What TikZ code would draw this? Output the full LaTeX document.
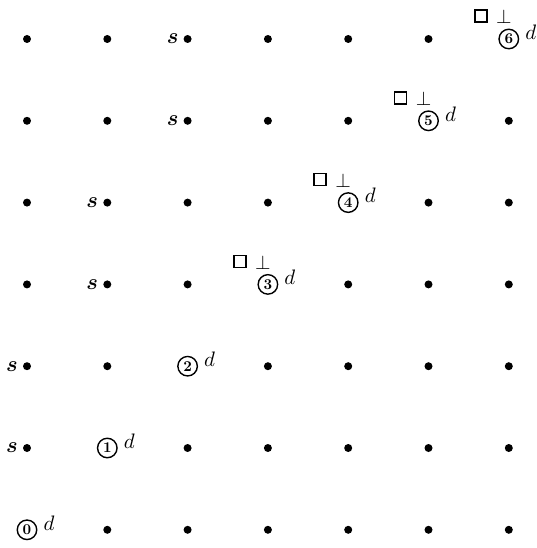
\documentclass[tikz,border=0pt]{standalone}
\usepackage{graphicx}
\usepackage{bm}
\newcommand{\bigtxt}[2]{\scalebox{#1}{#2}}
\tikzset{
  gdot/.style={circle, fill=black, inner sep=0pt, minimum size=8bp},
  cnum/.style={circle, draw, line width=1.4bp, inner sep=0pt, minimum size=19.5bp},
  plain/.style={inner sep=0pt},
  sqbox/.style={draw, line width=1.6bp, minimum size=12bp, inner sep=0pt}
}
\begin{document}
\begin{tikzpicture}[x=1bp,y=-1bp]
\useasboundingbox (0,0) rectangle (537,548);
\foreach \r in {0,...,6}{
  \foreach \c in {0,...,6}{
    \pgfmathsetmacro{\px}{27+80.3*\c}
    \pgfmathsetmacro{\py}{39+81.8*\r}
    \pgfmathtruncatemacro{\k}{6-\r}
    \ifnum\c=\k\relax
      \node[cnum] (c\c) at (\px,\py) {\bigtxt{1.5}{\bfseries\c}};
      \node[plain] (d\c) at (\px+22,\py-7) {\bigtxt{2.1}{$d$}};
      \ifnum\c>2\relax
        \node[sqbox] (q\c) at (\px-28,\py-23) {};
        \node[plain] (t\c) at (\px-5,\py-22) {\bigtxt{2.0}{$\perp$}};
      \fi
    \else
      \node[gdot] (p\r\c) at (\px,\py) {};
    \fi
  }
}
\node[plain] (s0) at (27+80.3*2-15,39) {\bigtxt{2.2}{$\bm{s}$}};
\node[plain] (s1) at (27+80.3*2-15,39+81.8) {\bigtxt{2.2}{$\bm{s}$}};
\node[plain] (s2) at (27+80.3*1-15,39+81.8*2) {\bigtxt{2.2}{$\bm{s}$}};
\node[plain] (s3) at (27+80.3*1-15,39+81.8*3) {\bigtxt{2.2}{$\bm{s}$}};
\node[plain] (s4) at (27-15,39+81.8*4) {\bigtxt{2.2}{$\bm{s}$}};
\node[plain] (s5) at (27-15,39+81.8*5) {\bigtxt{2.2}{$\bm{s}$}};
\end{tikzpicture}
\end{document}
